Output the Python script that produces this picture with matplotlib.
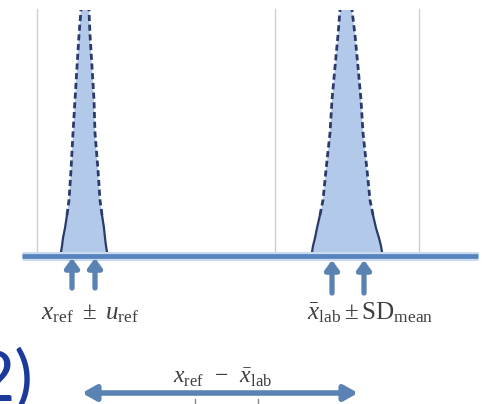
import numpy as np
import matplotlib
matplotlib.use("Agg")
import matplotlib.pyplot as plt

plt.rcParams["mathtext.fontset"] = "custom"
plt.rcParams["mathtext.rm"] = "Liberation Serif"
plt.rcParams["mathtext.it"] = "Liberation Serif:italic"

# pixel-space data (y grows downward)
baseline_y = 256
baseline_x = [22, 478]
grid_x = [37, 275, 419]
grid_top = 9

# peak outlines: heights (y) with left/right edges
peak_y = [256, 252, 246, 238, 228, 215, 200, 170, 133, 100, 67, 35, 10]
ref_left = [60, 61, 62, 63, 65, 67, 69, 71, 73, 75, 77, 79, 81]
ref_right = [108, 107, 106, 105, 104, 102, 100, 98, 95, 94, 92, 90, 89]
lab_left = [311, 312, 313, 315, 317, 320, 323, 326, 330, 332, 335, 338, 340]
lab_right = [383, 382, 381, 379, 376, 373, 370, 367, 363, 361, 358, 355, 352]
solid_upto = 5  # index where dashed part starts

# up arrows (x positions) and their spans
ref_arrows_x = [72, 95]
lab_arrows_x = [332, 364]
ref_arrow_span = (288, 258)
lab_arrow_span = (293, 260)

# difference arrow and the two small marks under it
diff_x = [82, 358]
diff_y = 393
diff_marks_x = [195, 258]

fig = plt.figure(figsize=(4.87, 4.04), dpi=100)
ax = fig.add_axes([0, 0, 1, 1])
ax.set_xlim(0, 487)
ax.set_ylim(404, 0)
ax.axis("off")

for gx in grid_x:
    ax.plot([gx, gx], [grid_top, baseline_y], color="#cfcfcf", lw=1.0, zorder=1)

for left, right in [(ref_left, ref_right), (lab_left, lab_right)]:
    xs = list(left) + list(right[::-1])
    ys = list(peak_y) + list(peak_y[::-1])
    ax.fill(xs, ys, color="#b2c9ea", lw=0, zorder=2)
    for side in (left, right):
        ax.plot(side[:solid_upto + 1], peak_y[:solid_upto + 1],
                color="#2b3a6b", lw=1.6, zorder=3, solid_capstyle="round")
        ax.plot(side[solid_upto:], peak_y[solid_upto:],
                color="#2b3a6b", lw=2.0, ls=(0, (2.2, 1.3)), zorder=3)

ax.plot(baseline_x, [baseline_y, baseline_y], color="#c9daf0", lw=6.5, zorder=3,
        solid_capstyle="butt")
ax.plot(baseline_x, [baseline_y, baseline_y], color="#5683bd", lw=3.4, zorder=4,
        solid_capstyle="butt")

arrow_kw = dict(arrowstyle="-|>,head_length=0.55,head_width=0.4", color="#5a83b4",
                lw=3.8, shrinkA=0, shrinkB=0)
for xs, (y0, y1) in [(ref_arrows_x, ref_arrow_span), (lab_arrows_x, lab_arrow_span)]:
    for x in xs:
        ax.annotate("", xy=(x, y1), xytext=(x, y0), arrowprops=arrow_kw, zorder=5)

ax.annotate("", xy=(diff_x[0], diff_y), xytext=(diff_x[1], diff_y),
            arrowprops=dict(arrowstyle="<|-|>,head_length=0.8,head_width=0.45",
                            color="#5a83b4", lw=4.0, shrinkA=0, shrinkB=0), zorder=5)
for mx in diff_marks_x:
    ax.plot([mx, mx], [399, 404], color="#8a8a8a", lw=1.0, zorder=4)

txt = "#3f3f3f"
ax.text(90, 313, r"$x_{\mathrm{ref}}\ \pm\ u_{\mathrm{ref}}$", ha="center", va="center",
        fontsize=18, color=txt)
ax.text(370, 313, r"$\bar{x}_{\mathrm{lab}}\pm\mathrm{SD}_{\mathrm{mean}}$", ha="center",
        va="center", fontsize=18, color=txt)
ax.text(223, 377, r"$x_{\mathrm{ref}}\ \,-\ \,\bar{x}_{\mathrm{lab}}$", ha="center",
        va="center", fontsize=17, color=txt)

ax.text(34, 348, "2)", ha="right", va="top", fontsize=50, color="#1c3a9c",
        family="Lato")

fig.savefig("out.png", dpi=100)
